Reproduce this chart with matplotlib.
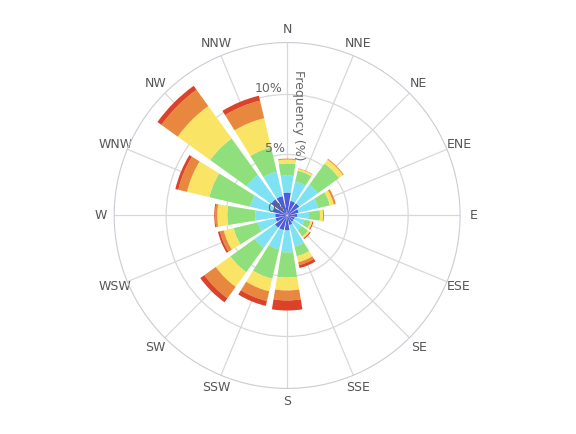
import numpy as np
import matplotlib
matplotlib.use("Agg")
import matplotlib.pyplot as plt

directions = ["N","NNE","NE","ENE","E","ESE","SE","SSE","S","SSW","SW","WSW","W","WNW","NW","NNW"]
s1 = [1.83,1.17,1.17,0.91,0.74,0.58,0.58,0.74,1.17,1.17,1.17,0.91,0.91,1.17,1.58,1.58]
s2 = [1.42,1.66,1.91,1.67,1.00,0.84,0.84,1.84,1.83,1.66,2.08,1.51,1.67,1.91,2.50,2.09]
s3 = [1.00,0.92,2.17,1.00,0.92,0.50,0.66,0.83,2.09,2.50,2.50,2.08,2.33,3.50,3.75,2.08]
s4 = [0.33,0.17,0.41,0.33,0.25,0.17,0.17,0.51,1.08,1.08,1.50,0.84,0.83,1.91,3.33,2.50]
s5 = [0.08,0.04,0.08,0.17,0.08,0.00,0.00,0.25,0.83,0.83,1.17,0.33,0.17,0.75,1.67,1.50]
s6 = [0.00,0.00,0.00,0.00,0.00,0.08,0.09,0.25,0.84,0.42,0.42,0.17,0.08,0.25,0.41,0.42]
series = [s1,s2,s3,s4,s5,s6]
colors = ['#4B5DD8','#7FE1F4','#8FE07C','#F9E466','#E8883E','#DC4229']

fig = plt.figure(figsize=(5.76,4.34), dpi=100)
ax = fig.add_axes([0.198,0.105,0.601,0.797], projection='polar')
ax.set_theta_zero_location('N'); ax.set_theta_direction(-1)
theta = np.deg2rad(np.arange(16)*22.5)
w = np.deg2rad(22.5)*0.82
bottom = np.zeros(16)
for s,c in zip(series,colors):
    ax.bar(theta, s, width=w, bottom=bottom, color=c, edgecolor='none', zorder=3)
    bottom += np.array(s)
ax.set_ylim(-0.08, 14.33)
ax.set_yticks([5,10]); ax.set_yticklabels([])
ax.set_xticks(theta); ax.set_xticklabels(directions, fontsize=9, color='#555555')
ax.tick_params(axis='x', pad=-1)
ax.grid(color='#d8d8d8', lw=0.9, zorder=0)
ax.spines['polar'].set_color('#c8ccd4')
for v,lab in [(0,'0%'),(5,'5%'),(10,'10%')]:
    ax.text(np.deg2rad(-2), v, lab, ha='right', va='bottom', fontsize=9, color='#666666', zorder=5)
ax.text(np.deg2rad(2.5), 8.3, 'Frequency (%)', rotation=-90, ha='left', va='center', fontsize=9, color='#666666', zorder=5)
fig.savefig('out.png', dpi=100)
